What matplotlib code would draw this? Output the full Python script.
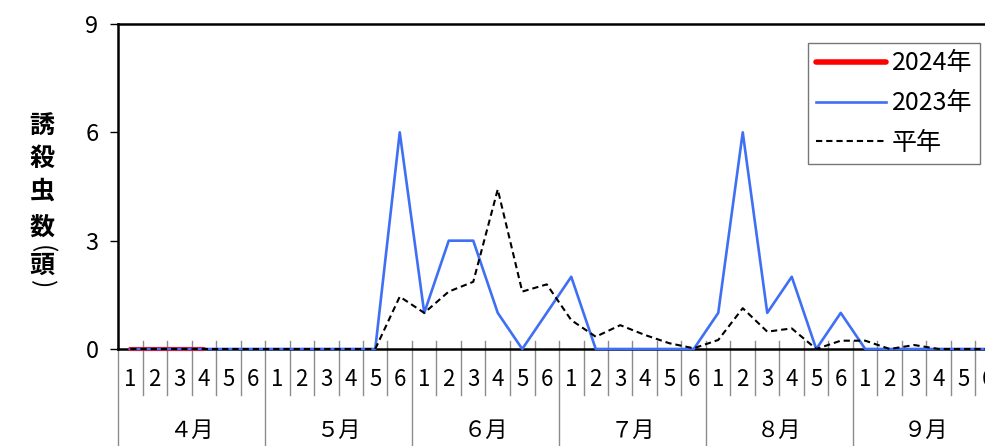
import numpy as np
import matplotlib
matplotlib.use('Agg')
from matplotlib import pyplot as plt
import matplotlib.transforms as mtrans

plt.rcParams['font.family'] = ['Noto Sans CJK JP', 'DejaVu Sans']

# 月と半旬
months = ['４月', '５月', '６月', '７月', '８月', '９月']
weeks = ['1', '2', '3', '4', '5', '6']

# 誘殺虫数
y2024 = [0, 0, 0, 0]
y2023 = [0, 0, 0, 0, 0, 0,
         0, 0, 0, 0, 0, 6,
         1, 3, 3, 1, 0, 1,
         2, 0, 0, 0, 0, 0,
         1, 6, 1, 2, 0, 1,
         0, 0, 0, 0, 0, 0]
avg = [0, 0, 0, 0, 0, 0,
       0, 0, 0, 0, 0, 1.45,
       1.0, 1.59, 1.86, 4.42, 1.59, 1.79,
       0.8, 0.34, 0.66, 0.39, 0.16, 0.02,
       0.25, 1.13, 0.48, 0.57, 0.0, 0.23,
       0.23, 0.0, 0.11, 0.0, 0.0, 0.0]

n = len(months) * len(weeks)
x = np.arange(n) + 0.5

fig = plt.figure(figsize=(9.85, 4.46), dpi=100)
W, H = 985, 446
ax = fig.add_axes([118 / W, (H - 349) / H, 882 / W, 325 / H])

ax.plot(x[:len(y2024)], y2024, color='#ff0000', lw=3.0, solid_capstyle='round',
        zorder=3, clip_on=False, label='2024年')
ax.plot(x, y2023, color='#3f6ff5', lw=1.9, zorder=4, clip_on=False, label='2023年')
ax.plot(x, avg, color='black', lw=1.5, ls=(0, (3.0, 1.9)), zorder=5, clip_on=False,
        label='平年')

ax.set_xlim(0, n)
ax.set_ylim(0, 9)
ax.set_yticks([0, 3, 6, 9])
ax.tick_params(axis='y', direction='out', length=6, width=1, labelsize=17, pad=8)
ax.set_xticks([])
for s in ['left', 'top', 'bottom']:
    ax.spines[s].set_linewidth(1.8)
ax.spines['right'].set_visible(False)

# 2段の目盛ラベル
tr = mtrans.blended_transform_factory(ax.transData, ax.transAxes)
for i in range(n):
    ax.text(x[i], -0.095, weeks[i % 6], transform=tr, ha='center', va='center',
            fontsize=16)
for i in range(n + 1):
    bottom = -0.31 if i % 6 == 0 else -0.142
    ax.plot([i, i], [0.025, bottom], transform=tr, color='#8c8c8c', lw=1,
            clip_on=False, zorder=1)
for m, name in enumerate(months):
    ax.text(m * 6 + 3, -0.25, name, transform=tr, ha='center', va='center',
            fontsize=16)

# 縦書きの軸ラベル
ychars = [('誘', 127, 0), ('殺', 159, 0), ('虫', 192, 0), ('数', 228, 0),
          ('(', 249, -90), ('頭', 266, 0), (')', 284, -90)]
for ch, py, rot in ychars:
    fig.text(42 / W, 1 - py / H, ch, ha='center', va='center', fontsize=18,
             fontweight='bold' if rot == 0 else 'normal', rotation=rot)

leg = fig.legend(loc='upper right', bbox_to_anchor=(980 / W, 1 - 43 / H),
                 fontsize=18, frameon=True, fancybox=False, edgecolor='#555555',
                 handlelength=2.8, labelspacing=0.55, borderpad=0.3,
                 handletextpad=0.25, borderaxespad=0)
leg.get_frame().set_linewidth(1.0)
for h in leg.get_lines():
    if h.get_color() == '#ff0000':
        h.set_linewidth(4)

fig.savefig('out.png', dpi=100)
